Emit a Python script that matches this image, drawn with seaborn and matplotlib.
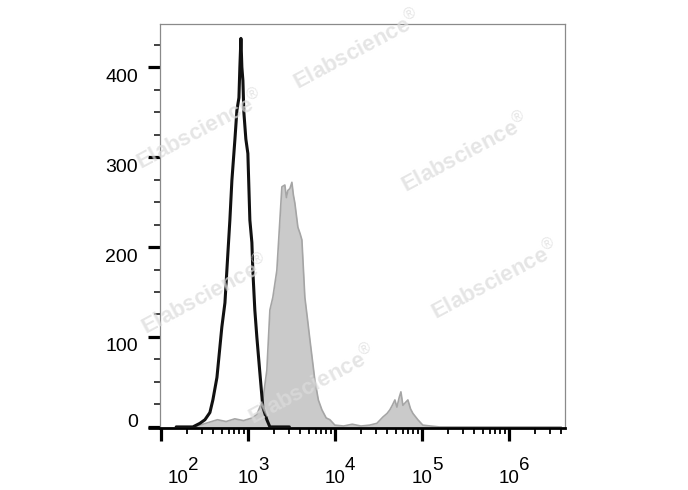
import matplotlib
matplotlib.use("Agg")
import matplotlib.pyplot as plt
import matplotlib.ticker as mticker
import matplotlib.transforms as mtransforms
import seaborn as sns
import pandas as pd
import numpy as np

# ---- data (fluorescence intensity, event count) ----
black_x = [150, 233, 281, 321, 366, 396, 441, 502, 545, 589, 621, 655, 710, 748,
           789, 809, 832, 853, 877, 899, 948, 1000, 1054, 1112, 1140, 1202, 1268,
           1374, 1486, 1652, 1791, 3000]
black_y = [0, 0, 4, 8, 16, 30, 55, 111, 138, 193, 230, 274, 320, 352,
           366, 400, 432, 400, 385, 350, 320, 304, 230, 205, 174, 130, 100,
           60, 22, 8, 0, 0]

gray_x = [150, 250, 281, 355, 447, 562, 708, 891, 1122, 1268, 1486, 1652, 1791,
          1936, 2153, 2333, 2460, 2661, 2773, 2884, 3041, 3206, 3334, 3467, 3758,
          3981, 4178, 4519, 4842, 5164, 5888, 6457, 7096, 7943, 8770, 10000,
          12590, 15850, 19950, 25120, 30410, 35650, 39810, 42850, 45710, 48980,
          51640, 54950, 57410, 60530, 64570, 69020, 74130, 78890, 89950, 102500,
          125900, 158500, 4000000]
gray_y = [0, 0, 2, 5, 8, 6, 9, 7, 10, 14, 30, 63, 130,
          144, 174, 230, 267, 269, 255, 263, 265, 272, 258, 249, 222,
          215, 208, 144, 120, 97, 52, 30, 19, 10, 8, 2,
          1, 3, 1, 2, 4, 11, 15, 19, 24, 30,
          22, 33, 39, 24, 27, 30, 20, 15, 8, 2,
          1, 0, 0]

y_ticks = [0, 100, 200, 300, 400]
x_decades = [1e2, 1e3, 1e4, 1e5, 1e6]
x_exponents = ["2", "3", "4", "5", "6"]

watermark = "Elabscience"

# ---- figure ----
sns.set_style("white")
plt.rcParams['font.family'] = ['Liberation Sans', 'DejaVu Sans']
plt.rcParams['text.color'] = 'black'
plt.rcParams['xtick.color'] = 'black'
plt.rcParams['ytick.color'] = 'black'
plt.rcParams['mathtext.fontset'] = 'custom'
plt.rcParams['mathtext.rm'] = 'Liberation Sans'

W, H = 688, 490
PX = 72 / 100  # points per pixel
fig = plt.figure(figsize=(W / 100, H / 100), dpi=100)
left, right, top, bottom = 160, 565, 24, 428
ax = fig.add_axes([left / W, 1 - bottom / H, (right - left) / W, (bottom - top) / H])

df_b = pd.DataFrame({"x": black_x, "y": black_y})
df_g = pd.DataFrame({"x": gray_x, "y": gray_y})

ax.fill_between(df_g["x"], 0, df_g["y"], color="#cacaca", linewidth=0, zorder=1)
sns.lineplot(data=df_g, x="x", y="y", ax=ax, color="#a5a5a5", linewidth=1.2,
             sort=False, estimator=None, zorder=2)
sns.lineplot(data=df_b, x="x", y="y", ax=ax, color="#111111", linewidth=2.2,
             sort=False, estimator=None, zorder=3)

ax.set_xscale("log")
ax.set_xlim(10 ** 1.99, 10 ** 6.645)
ax.set_ylim(-1.2, 448)
ax.set_xlabel("")
ax.set_ylabel("")

ax.xaxis.set_major_locator(mticker.FixedLocator(x_decades))
ax.xaxis.set_major_formatter(mticker.NullFormatter())
ax.xaxis.set_minor_locator(mticker.LogLocator(base=10, subs=np.arange(2, 10), numticks=20))
ax.xaxis.set_minor_formatter(mticker.NullFormatter())
ax.yaxis.set_major_locator(mticker.FixedLocator(y_ticks))
ax.yaxis.set_major_formatter(mticker.FixedFormatter([str(v) for v in y_ticks]))
ax.yaxis.set_minor_locator(mticker.MultipleLocator(25))

ax.tick_params(axis="x", which="major", direction="out", length=9, width=2.3,
               color="black", bottom=True)
ax.tick_params(axis="x", which="minor", direction="out", length=4.5, width=1.3,
               color="black", bottom=True)
ax.tick_params(axis="y", which="major", direction="out", length=9, width=2.3,
               color="black", labelsize=14, pad=7, left=True)
ax.tick_params(axis="y", which="minor", direction="out", length=4, width=1.3,
               color="#333333", left=True)

for s in ["top", "right", "left"]:
    ax.spines[s].set_color("#8a8a8a")
    ax.spines[s].set_linewidth(0.9)
ax.spines["bottom"].set_color("black")
ax.spines["bottom"].set_linewidth(2.0)
# bottom axis line extends slightly left of the y axis
ax.plot([-12 / (right - left), 0], [0, 0], transform=ax.transAxes, color="black",
        linewidth=2.0, clip_on=False, solid_capstyle="butt")

# y tick labels sit slightly below their ticks (0 slightly above)
fig.canvas.draw()
for lab in ax.get_yticklabels():
    dy = 6 if lab.get_text() == "0" else -8
    lab.set_transform(lab.get_transform() +
                      mtransforms.ScaledTranslation(0, dy / 100, fig.dpi_scale_trans))

# x tick labels: "10" with a superscript exponent
x_shift_px = [17, 0, 0, 0, 0]
for d, e, sh in zip(x_decades, x_exponents, x_shift_px):
    ax.annotate("10", xy=(d, 0), xycoords=("data", "axes fraction"),
                xytext=(sh * PX, -55 * PX), textcoords="offset points",
                ha="center", va="baseline", fontsize=13.5, annotation_clip=False)
    ax.annotate(e, xy=(d, 0), xycoords=("data", "axes fraction"),
                xytext=((sh + 10) * PX, -42 * PX), textcoords="offset points",
                ha="left", va="baseline", fontsize=13.5, annotation_clip=False)

# watermarks
marks = [(357, 50), (465, 153), (200, 130), (495, 280), (205, 295), (312, 385)]
for (px, py) in marks:
    fig.text(px / W, 1 - py / H, watermark + "$^{®}$", rotation=28, ha="center",
             va="center", fontsize=16, fontweight="bold", color="#dcdcdc",
             alpha=0.72, zorder=10)

fig.savefig("out.png", dpi=100)
